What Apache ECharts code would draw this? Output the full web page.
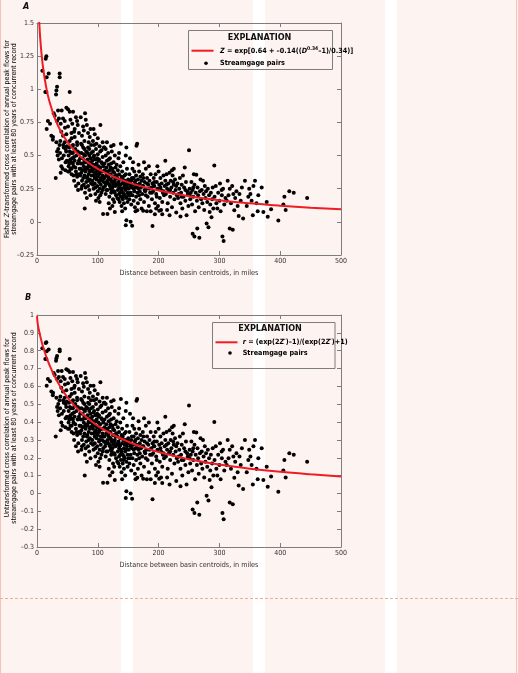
<!DOCTYPE html>
<html>
<head>
<meta charset="utf-8">
<script src="https://cdn.jsdelivr.net/npm/echarts@6/dist/echarts.min.js"></script>
<style>
html,body{margin:0;padding:0;}
body{width:518px;height:673px;position:relative;background:#fdf3f0;overflow:hidden;}
.stripe{position:absolute;top:0;height:673px;background:#ffffff;}
#chart{position:absolute;left:0;top:0;width:518px;height:673px;}
.edge{position:absolute;top:0;height:673px;width:1px;background:#f4c3ba;}
.dash{position:absolute;left:0;width:518px;top:598px;height:0;border-top:1px dashed #f0aaa0;}
</style>
</head>
<body>
<div class="stripe" style="left:121px;width:12px"></div>
<div class="stripe" style="left:253px;width:12px"></div>
<div class="stripe" style="left:385px;width:12px"></div>
<div class="edge" style="left:0"></div>
<div class="edge" style="left:516px"></div>
<div class="dash"></div>
<div id="chart"></div>
<script>
// ---------- DATA ----------
// Panel A: Fisher Z-transformed cross correlation vs distance (miles)
const fisherPoints = [
  [8.8,1.14],[14.3,1.23],[15.4,1.25],[15.9,1.09],[19.2,1.12],[15.4,0.98],[13.7,0.98],[18,0.76],[21.4,0.74],[15.9,0.70],[23.6,0.65],[26.4,0.64],[27.5,0.82],[29.1,0.80],[30.8,0.33],[26,0.62],
  [31.9,0.99],[31.3,0.96],[33,1.02],[37.3,1.12],[37.3,1.09],[34.6,0.84],[36,0.78],[33,0.76],[39,0.74],[40.6,0.84],[42.8,0.78],[45.6,0.76],[48.3,0.86],[46,0.71],[40,0.68],[42.8,0.65],[48.3,0.66],[38.4,0.61],[31.9,0.60],[45.6,0.60],[47.2,0.55],
  [35,0.55],[38,0.52],[40,0.42],[41,0.48],[43,0.58],[44,0.50],[46.7,0.39],[47,0.45],[48,0.53],[49,0.57],[36,0.47],[39,0.37],[42,0.40],[34,0.50],[44,0.56],[37,0.58],[49,0.46],[33,0.53],
  [51,0.85],[53.8,0.83],[59.3,0.83],[53.8,0.98],[51,0.72],[56.6,0.67],[62,0.70],[65.9,0.76],[69,0.67],[62,0.64],[53.8,0.61],[65.9,0.60],[59.3,0.58],[52.7,0.56],[58,0.74],[64,0.79],[55,0.77],[67,0.73],[61,0.68],[57,0.63],
  [51,0.38],[56.6,0.45],[67.5,0.24],[52,0.50],[53,0.44],[54,0.53],[55,0.40],[57,0.36],[58,0.48],[59,0.52],[60,0.42],[61,0.31],[62,0.46],[63,0.55],[64,0.38],[65,0.50],[66,0.34],[67,0.44],[68,0.29],[69,0.52],[70,0.40],[58,0.57],[62,0.54],[66,0.58],[55,0.47],[60,0.35],[64,0.27],[69,0.46],[53,0.38],
  [71.9,0.79],[75.8,0.72],[80.2,0.77],[84,0.67],[86.8,0.64],[78,0.61],[72.5,0.59],[74,0.65],[77,0.69],[82,0.73],[88,0.70],[79,0.82],[85,0.60],[89,0.58],
  [73,0.25],[78.5,0.10],[71,0.35],[72,0.44],[73,0.52],[74,0.31],[75,0.39],[75,0.48],[76,0.56],[77,0.28],[77,0.42],[78,0.35],[79,0.50],[79,0.22],[80,0.45],[80,0.38],[81,0.30],[81,0.53],[82,0.41],[82,0.18],[83,0.47],[83,0.34],[84,0.27],[84,0.56],[85,0.43],[85,0.36],[86,0.50],[86,0.24],[87,0.32],[87,0.45],[88,0.39],[88,0.20],[89,0.52],[89,0.29],[90,0.42],[90,0.35],[76,0.33],[78,0.46],[80,0.26],[83,0.40],[86,0.55],[88,0.48],[72,0.40],[74,0.58],
  [92,0.61],[97.7,0.59],[104.3,0.73],[103,0.57],[95,0.66],[100,0.63],[108,0.60],[93,0.70],
  [108.7,0.06],[91,0.46],[91,0.31],[92,0.38],[92,0.53],[93,0.25],[93,0.43],[94,0.35],[94,0.50],[95,0.29],[95,0.40],[96,0.47],[96,0.21],[97,0.37],[97,0.55],[98,0.32],[98,0.44],[99,0.27],[99,0.39],[100,0.51],[100,0.34],[101,0.42],[101,0.18],[102,0.30],[102,0.47],[103,0.37],[103,0.25],[104,0.41],[104,0.53],[105,0.33],[105,0.28],[106,0.45],[106,0.22],[107,0.38],[107,0.31],[108,0.49],[108,0.35],[109,0.26],[109,0.42],[110,0.30],[110,0.56],[94,0.58],[97,0.16],[100,0.23],[103,0.15],[106,0.54],[99,0.48],[95,0.36],[101,0.39],[104,0.20],
  [111,0.56],[122,0.57],[115,0.60],[126,0.58],
  [115.9,0.06],[128,0.075],[111,0.33],[111,0.44],[112,0.27],[112,0.38],[113,0.50],[113,0.21],[114,0.35],[114,0.41],[115,0.30],[115,0.46],[116,0.24],[116,0.37],[117,0.52],[117,0.29],[118,0.33],[118,0.43],[119,0.19],[119,0.39],[120,0.27],[120,0.48],[121,0.32],[121,0.36],[122,0.22],[122,0.44],[123,0.30],[123,0.53],[124,0.26],[124,0.40],[125,0.34],[125,0.17],[126,0.45],[126,0.29],[127,0.23],[127,0.37],[128,0.31],[128,0.50],[129,0.27],[129,0.41],[130,0.20],[130,0.35],[118,0.14],[124,0.12],[113,0.55],[120,0.10],[127,0.15],[116,0.31],[121,0.25],[125,0.28],
  [147,0.56],[138,0.59],
  [147,0.013],[146,-0.025],[146,0.50],[131,0.28],[131,0.43],[132,0.33],[132,0.18],[133,0.39],[133,0.24],[134,0.30],[134,0.48],[135,0.21],[135,0.36],[136,0.27],[136,0.15],[137,0.32],[137,0.42],[138,0.25],[138,0.19],[139,0.34],[139,0.12],[140,0.29],[140,0.38],[141,0.22],[141,0.17],[142,0.31],[142,0.45],[143,0.26],[143,0.14],[144,0.20],[144,0.35],[145,0.24],[145,0.10],[146,0.30],[147,0.18],[148,0.27],[148,0.40],[149,0.22],[149,0.15],[150,0.32],[150,0.20],[135,0.52],[140,0.08],[144,0.28],[137,0.22],[142,0.19],
  [163.6,0.575],[164.7,0.59],
  [154,0.0],[156.5,-0.03],[165,0.088],[151,0.25],[152,0.36],[152,0.17],[153,0.29],[154,0.22],[155,0.31],[155,0.13],[156,0.26],[157,0.20],[157,0.40],[158,0.28],[159,0.16],[159,0.33],[160,0.23],[161,0.30],[161,0.11],[162,0.26],[163,0.35],[163,0.19],[164,0.28],[165,0.22],[166,0.32],[166,0.14],[167,0.25],[168,0.38],[168,0.20],[169,0.29],[170,0.17],[170,0.34],[158,0.45],[162,0.08],[167,0.43],[153,0.48],
  [174.6,0.083],[180.7,0.08],[190,-0.032],[171,0.26],[172,0.31],[173,0.21],[174,0.36],[175,0.27],[176,0.15],[177,0.30],[178,0.23],[179,0.40],[180,0.25],[181,0.33],[182,0.19],[183,0.28],[184,0.12],[185,0.31],[186,0.22],[187,0.36],[188,0.26],[189,0.17],[190,0.29],[176,0.45],[184,0.42],[172,0.10],[187,0.08],[179,0.20],
  [193.9,0.058],[201,0.083],[206,0.058],[211,0.46],[191,0.23],[192,0.33],[193,0.27],[194,0.14],[195,0.36],[196,0.21],[197,0.30],[198,0.25],[199,0.12],[200,0.38],[201,0.28],[202,0.18],[203,0.33],[204,0.24],[205,0.29],[206,0.15],[207,0.22],[208,0.35],[209,0.20],[210,0.27],[198,0.42],[204,0.09],[196,0.10],
  [211,0.31],[212,0.21],[213,0.36],[214,0.25],[215,0.14],[216,0.29],[217,0.23],[218,0.37],[219,0.19],[220,0.31],[221,0.26],[222,0.11],[223,0.35],[224,0.22],[225,0.28],[226,0.17],[227,0.32],[228,0.24],[229,0.07],[230,0.20],[218,0.05],[225,0.40],[214,0.09],[222,0.39],
  [243,0.41],[231,0.29],[232,0.18],[234,0.25],[235,0.33],[236,0.14],[237,0.22],[238,0.28],[239,0.10],[240,0.35],[241,0.19],[242,0.26],[244,0.16],[245,0.30],[246,0.05],[247,0.23],[248,0.21],[249,0.12],[250,0.54],[236,0.04],
  [258,0.36],[262,0.355],[269,0.32],[273,0.31],[256,-0.09],[258.9,-0.11],[267,-0.12],[263.6,-0.05],[251,0.25],[252,0.17],[253,0.22],[254,0.30],[255,0.13],[256,0.24],[257,0.19],[259,0.28],[260,0.08],[261,0.22],[263,0.16],[264,0.26],[265,0.20],[266,0.11],[268,0.23],[270,0.17],
  [279,-0.013],[282,-0.04],[284,0.075],[287,0.035],[291.6,0.425],[271,0.24],[272,0.14],[274,0.21],[275,0.09],[276,0.27],[277,0.18],[278,0.23],[280,0.15],[281,0.25],[283,0.20],[285,0.13],[286,0.22],[288,0.17],[289,0.26],[290,0.10],
  [296.6,0.10],[305,-0.11],[307,-0.145],[303.7,0.24],[292,0.19],[294,0.27],[295,0.14],[298,0.22],[300,0.16],[301,0.29],[302,0.08],[304,0.20],[306,0.25],[308,0.13],[310,0.18],
  [313.6,0.31],[317,0.25],[323,0.21],[317,-0.05],[322,-0.06],[324.5,0.088],[331.7,0.045],[339,0.025],[312,0.16],[315,0.20],[319,0.14],[321,0.27],[326,0.18],[328,0.23],[330,0.12],[333,0.21],[335,0.16],[337,0.26],
  [342,0.31],[347.6,0.19],[351,0.21],[358.6,0.31],[364,0.20],[345,0.12],[349,0.25],[353,0.16],[356,0.27],[361,0.14],[363,0.08],[355,0.05],
  [369.6,0.26],[377.8,0.15],[372.3,0.075],[379.5,0.038],[385,0.095],[396.9,0.01],[406.9,0.19],[405.2,0.13],[409,0.09],[415,0.23],[422.3,0.22],[444.3,0.18],
  [52,0.42],[56,0.52],[59,0.44],[61,0.49],[63,0.41],[65,0.36],[67,0.53],[69,0.36],[54,0.46],[57,0.40],
  [71,0.48],[73,0.37],[75,0.44],[77,0.51],[79,0.40],[81,0.46],[83,0.52],[85,0.31],[87,0.38],[89,0.44],[74,0.27],[82,0.33],[86,0.42],[78,0.55],
  [91,0.40],[93,0.49],[95,0.33],[97,0.43],[99,0.35],[101,0.46],[103,0.31],[105,0.38],[107,0.44],[109,0.33],[96,0.26],[102,0.36],[108,0.24],[92,0.28],
  [111,0.39],[113,0.29],[115,0.38],[117,0.34],[119,0.28],[121,0.41],[123,0.24],[125,0.38],[127,0.30],[129,0.33],[114,0.24],[122,0.31],[128,0.22],[118,0.47],
  [131,0.35],[133,0.29],[135,0.26],[137,0.28],[139,0.24],[141,0.33],[143,0.21],[145,0.31],[147,0.25],[149,0.29],[134,0.17],[146,0.36],
  [151,0.30],[154,0.27],[156,0.33],[159,0.25],[162,0.31],[165,0.26],[169,0.23],[173,0.27],[177,0.24],[181,0.29],[185,0.25],[189,0.22],[193,0.30],[197,0.19],[153,0.20],[160,0.38],[175,0.33],[192,0.27],
  [203,0.26],[208,0.23],[213,0.28],[219,0.24],[224,0.30],[229,0.27],[233,0.21],[238,0.19],[244,0.24],[251,0.20],[257,0.26]
];

// Panel B: untransformed cross correlation (same streamgage pairs)
const untransformedPoints = [
  [8.8,0.814],[14.3,0.843],[15.4,0.848],[15.9,0.797],[19.2,0.807],[15.4,0.753],[13.7,0.753],[18,0.641],[21.4,0.629],[15.9,0.604],[23.6,0.572],[26.4,0.565],[27.5,0.675],[29.1,0.664],[30.8,0.319],[26,0.551],
  [31.9,0.757],[31.3,0.744],[33,0.770],[37.3,0.807],[37.3,0.797],[34.6,0.686],[36,0.653],[33,0.641],[39,0.629],[40.6,0.686],[42.8,0.653],[45.6,0.641],[48.3,0.696],[46,0.611],[40,0.592],[42.8,0.572],[48.3,0.578],[38.4,0.544],[31.9,0.537],[45.6,0.537],[47.2,0.501],
  [35,0.501],[38,0.478],[40,0.397],[41,0.446],[43,0.523],[44,0.462],[46.7,0.371],[47,0.422],[48,0.485],[49,0.515],[36,0.438],[39,0.354],[42,0.380],[34,0.462],[44,0.508],[37,0.523],[49,0.430],[33,0.485],
  [51,0.691],[53.8,0.680],[59.3,0.680],[53.8,0.753],[51,0.617],[56.6,0.585],[62,0.604],[65.9,0.641],[69,0.585],[62,0.565],[53.8,0.544],[65.9,0.537],[59.3,0.523],[52.7,0.508],[58,0.629],[64,0.658],[55,0.647],[67,0.623],[61,0.592],[57,0.558],
  [51,0.363],[56.6,0.422],[67.5,0.235],[52,0.462],[53,0.414],[54,0.485],[55,0.380],[57,0.345],[58,0.446],[59,0.478],[60,0.397],[61,0.300],[62,0.430],[63,0.501],[64,0.363],[65,0.462],[66,0.327],[67,0.414],[68,0.282],[69,0.478],[70,0.380],[58,0.515],[62,0.493],[66,0.523],[55,0.438],[60,0.336],[64,0.264],[69,0.430],[53,0.363],
  [71.9,0.658],[75.8,0.617],[80.2,0.647],[84,0.585],[86.8,0.565],[78,0.544],[72.5,0.530],[74,0.572],[77,0.598],[82,0.623],[88,0.604],[79,0.675],[85,0.537],[89,0.523],
  [73,0.245],[78.5,0.100],[71,0.336],[72,0.414],[73,0.478],[74,0.300],[75,0.371],[75,0.446],[76,0.508],[77,0.273],[77,0.397],[78,0.336],[79,0.462],[79,0.217],[80,0.422],[80,0.363],[81,0.291],[81,0.485],[82,0.388],[82,0.178],[83,0.438],[83,0.327],[84,0.264],[84,0.508],[85,0.405],[85,0.345],[86,0.462],[86,0.235],[87,0.310],[87,0.422],[88,0.371],[88,0.197],[89,0.478],[89,0.282],[90,0.397],[90,0.336],[76,0.319],[78,0.430],[80,0.254],[83,0.380],[86,0.501],[88,0.446],[72,0.380],[74,0.523],
  [92,0.544],[97.7,0.530],[104.3,0.623],[103,0.515],[95,0.578],[100,0.558],[108,0.537],[93,0.604],
  [108.7,0.060],[91,0.430],[91,0.300],[92,0.363],[92,0.485],[93,0.245],[93,0.405],[94,0.336],[94,0.462],[95,0.282],[95,0.380],[96,0.438],[96,0.207],[97,0.354],[97,0.501],[98,0.310],[98,0.414],[99,0.264],[99,0.371],[100,0.470],[100,0.327],[101,0.397],[101,0.178],[102,0.291],[102,0.438],[103,0.354],[103,0.245],[104,0.388],[104,0.485],[105,0.319],[105,0.273],[106,0.422],[106,0.217],[107,0.363],[107,0.300],[108,0.454],[108,0.336],[109,0.254],[109,0.397],[110,0.291],[110,0.508],[94,0.523],[97,0.159],[100,0.226],[103,0.149],[106,0.493],[99,0.446],[95,0.345],[101,0.371],[104,0.197],
  [111,0.508],[122,0.515],[115,0.537],[126,0.523],
  [115.9,0.060],[128,0.075],[111,0.319],[111,0.414],[112,0.264],[112,0.363],[113,0.462],[113,0.207],[114,0.336],[114,0.388],[115,0.291],[115,0.430],[116,0.235],[116,0.354],[117,0.478],[117,0.282],[118,0.319],[118,0.405],[119,0.188],[119,0.371],[120,0.264],[120,0.446],[121,0.310],[121,0.345],[122,0.217],[122,0.414],[123,0.291],[123,0.485],[124,0.254],[124,0.380],[125,0.327],[125,0.168],[126,0.422],[126,0.282],[127,0.226],[127,0.354],[128,0.300],[128,0.462],[129,0.264],[129,0.388],[130,0.197],[130,0.336],[118,0.139],[124,0.119],[113,0.501],[120,0.100],[127,0.149],[116,0.300],[121,0.245],[125,0.273],
  [147,0.508],[138,0.530],
  [147,0.013],[146,-0.025],[146,0.462],[131,0.273],[131,0.405],[132,0.319],[132,0.178],[133,0.371],[133,0.235],[134,0.291],[134,0.446],[135,0.207],[135,0.345],[136,0.264],[136,0.149],[137,0.310],[137,0.397],[138,0.245],[138,0.188],[139,0.327],[139,0.119],[140,0.282],[140,0.363],[141,0.217],[141,0.168],[142,0.300],[142,0.422],[143,0.254],[143,0.139],[144,0.197],[144,0.336],[145,0.235],[145,0.100],[146,0.291],[147,0.178],[148,0.264],[148,0.380],[149,0.217],[149,0.149],[150,0.310],[150,0.197],[135,0.478],[140,0.080],[144,0.273],[137,0.217],[142,0.188],
  [163.6,0.519],[164.7,0.530],
  [154,0.0],[156.5,-0.030],[165,0.088],[151,0.245],[152,0.345],[152,0.168],[153,0.282],[154,0.217],[155,0.300],[155,0.129],[156,0.254],[157,0.197],[157,0.380],[158,0.273],[159,0.159],[159,0.319],[160,0.226],[161,0.291],[161,0.110],[162,0.254],[163,0.336],[163,0.188],[164,0.273],[165,0.217],[166,0.310],[166,0.139],[167,0.245],[168,0.363],[168,0.197],[169,0.282],[170,0.168],[170,0.327],[158,0.422],[162,0.080],[167,0.405],[153,0.446],
  [174.6,0.083],[180.7,0.080],[190,-0.032],[171,0.254],[172,0.300],[173,0.207],[174,0.345],[175,0.264],[176,0.149],[177,0.291],[178,0.226],[179,0.380],[180,0.245],[181,0.319],[182,0.188],[183,0.273],[184,0.119],[185,0.300],[186,0.217],[187,0.345],[188,0.254],[189,0.168],[190,0.282],[176,0.422],[184,0.397],[172,0.100],[187,0.080],[179,0.197],
  [193.9,0.058],[201,0.083],[206,0.058],[211,0.430],[191,0.226],[192,0.319],[193,0.264],[194,0.139],[195,0.345],[196,0.207],[197,0.291],[198,0.245],[199,0.119],[200,0.363],[201,0.273],[202,0.178],[203,0.319],[204,0.235],[205,0.282],[206,0.149],[207,0.217],[208,0.336],[209,0.197],[210,0.264],[198,0.397],[204,0.090],[196,0.100],
  [211,0.300],[212,0.207],[213,0.345],[214,0.245],[215,0.139],[216,0.282],[217,0.226],[218,0.354],[219,0.188],[220,0.300],[221,0.254],[222,0.110],[223,0.336],[224,0.217],[225,0.273],[226,0.168],[227,0.310],[228,0.235],[229,0.070],[230,0.197],[218,0.050],[225,0.380],[214,0.090],[222,0.371],
  [243,0.388],[231,0.282],[232,0.178],[234,0.245],[235,0.319],[236,0.139],[237,0.217],[238,0.273],[239,0.100],[240,0.336],[241,0.188],[242,0.254],[244,0.159],[245,0.291],[246,0.050],[247,0.226],[248,0.207],[249,0.119],[250,0.493],[236,0.040],
  [258,0.345],[262,0.341],[269,0.310],[273,0.300],[256,-0.090],[258.9,-0.110],[267,-0.119],[263.6,-0.050],[251,0.245],[252,0.168],[253,0.217],[254,0.291],[255,0.129],[256,0.235],[257,0.188],[259,0.273],[260,0.080],[261,0.217],[263,0.159],[264,0.254],[265,0.197],[266,0.110],[268,0.226],[270,0.168],
  [279,-0.013],[282,-0.040],[284,0.075],[287,0.035],[291.6,0.401],[271,0.235],[272,0.139],[274,0.207],[275,0.090],[276,0.264],[277,0.178],[278,0.226],[280,0.149],[281,0.245],[283,0.197],[285,0.129],[286,0.217],[288,0.168],[289,0.254],[290,0.100],
  [296.6,0.100],[305,-0.110],[307,-0.144],[303.7,0.235],[292,0.188],[294,0.264],[295,0.139],[298,0.217],[300,0.159],[301,0.282],[302,0.080],[304,0.197],[306,0.245],[308,0.129],[310,0.178],
  [313.6,0.300],[317,0.245],[323,0.207],[317,-0.050],[322,-0.060],[324.5,0.088],[331.7,0.045],[339,0.025],[312,0.159],[315,0.197],[319,0.139],[321,0.264],[326,0.178],[328,0.226],[330,0.119],[333,0.207],[335,0.159],[337,0.254],
  [342,0.300],[347.6,0.188],[351,0.207],[358.6,0.300],[364,0.197],[345,0.119],[349,0.245],[353,0.159],[356,0.264],[361,0.139],[363,0.080],[355,0.050],
  [369.6,0.254],[377.8,0.149],[372.3,0.075],[379.5,0.038],[385,0.095],[396.9,0.010],[406.9,0.188],[405.2,0.129],[409,0.090],[415,0.226],[422.3,0.217],[444.3,0.178],
  [52,0.397],[56,0.478],[59,0.414],[61,0.454],[63,0.388],[65,0.345],[67,0.485],[69,0.345],[54,0.430],[57,0.380],
  [71,0.446],[73,0.354],[75,0.414],[77,0.470],[79,0.380],[81,0.430],[83,0.478],[85,0.300],[87,0.363],[89,0.414],[74,0.264],[82,0.319],[86,0.397],[78,0.501],
  [91,0.380],[93,0.454],[95,0.319],[97,0.405],[99,0.336],[101,0.430],[103,0.300],[105,0.363],[107,0.414],[109,0.319],[96,0.254],[102,0.345],[108,0.235],[92,0.273],
  [111,0.371],[113,0.282],[115,0.363],[117,0.327],[119,0.273],[121,0.388],[123,0.235],[125,0.363],[127,0.291],[129,0.319],[114,0.235],[122,0.300],[128,0.217],[118,0.438],
  [131,0.336],[133,0.282],[135,0.254],[137,0.273],[139,0.235],[141,0.319],[143,0.207],[145,0.300],[147,0.245],[149,0.282],[134,0.168],[146,0.345],
  [151,0.291],[154,0.264],[156,0.319],[159,0.245],[162,0.300],[165,0.254],[169,0.226],[173,0.264],[177,0.235],[181,0.282],[185,0.245],[189,0.217],[193,0.291],[197,0.188],[153,0.197],[160,0.363],[175,0.319],[192,0.264],
  [203,0.254],[208,0.226],[213,0.273],[219,0.235],[224,0.291],[229,0.264],[233,0.207],[238,0.188],[244,0.235],[251,0.197],[257,0.254]
];

// Fitted curves
const curveDistA = [1,2,3,4,5,7,10,15,20,30,40,50,60,70,80,100,125,150,175,200,250,300,350,400,450,500];
const curveZ     = [1.897,1.700,1.574,1.480,1.405,1.289,1.163,1.018,0.915,0.773,0.676,0.603,0.546,0.500,0.461,0.399,0.342,0.298,0.264,0.236,0.194,0.163,0.140,0.122,0.107,0.095];
const curveDistB = [0,1,2,3,5,7,10,15,20,30,40,50,60,70,80,100,125,150,175,200,250,300,350,400,450,500];
const curveR     = [0.994,0.956,0.935,0.918,0.886,0.859,0.822,0.769,0.724,0.649,0.589,0.539,0.498,0.462,0.431,0.379,0.329,0.290,0.258,0.232,0.192,0.162,0.139,0.121,0.107,0.095];

const xTitle = 'Distance between basin centroids, in miles';

// ---------- CHART ----------
const FONT = "'Liberation Sans Narrow','Arial Narrow','DejaVu Sans Condensed','Liberation Sans',sans-serif";
const AX = '#7d7d7d';
const TXT = '#333';
const RED = '#ee1d25';

const zip = (xs, ys) => xs.map((x, i) => [x, ys[i]]);
const fmtY = v => { const s = parseFloat(v.toFixed(2)); return s < 0 ? '\u2013' + String(-s) : String(s); };

const GRID_A = {left: 37, top: 23, width: 304, height: 232};
const GRID_B = {left: 37, top: 315, width: 304, height: 232};

function xAx(gi, pos, labels) {
  return {
    type: 'value', gridIndex: gi, position: pos, min: 0, max: 500, interval: 100,
    axisLine: {show: true, onZero: false, lineStyle: {color: AX, width: 1}},
    axisTick: {show: true, inside: true, length: 4, lineStyle: {color: AX}},
    axisLabel: {show: labels, margin: 3, fontSize: 7, color: TXT, fontFamily: FONT},
    splitLine: {show: false},
    name: labels ? xTitle : '', nameLocation: 'middle', nameGap: 15,
    nameTextStyle: {fontSize: 7.2, color: TXT, fontFamily: FONT}
  };
}
function yAx(gi, pos, labels, min, max, interval) {
  return {
    type: 'value', gridIndex: gi, position: pos, min, max, interval,
    axisLine: {show: true, onZero: false, lineStyle: {color: AX, width: 1}},
    axisTick: {show: true, inside: true, length: 4, lineStyle: {color: AX}},
    axisLabel: {show: labels, margin: 3, fontSize: 7, color: TXT, fontFamily: FONT, formatter: fmtY},
    splitLine: {show: false}
  };
}

const chart = echarts.init(document.getElementById('chart'), null, {renderer: 'canvas'});

const rich = {
  n: {fontSize: 7, fontFamily: FONT, color: TXT},
  i: {fontSize: 7, fontFamily: FONT, color: TXT, fontStyle: 'italic'}
};
const lrich = {
  b: {fontSize: 7.2, fontWeight: 'bold', fontFamily: FONT, color: '#111'},
  bi: {fontSize: 7.2, fontWeight: 'bold', fontStyle: 'italic', fontFamily: FONT, color: '#111'},
  sup: {fontSize: 5, fontWeight: 'bold', fontFamily: FONT, color: '#111', padding: [0, 0, 4, 0]}
};

function legendGroup(box, head, lineY, formula, dotY, textX) {
  return [
    {type: 'rect', shape: box, style: {fill: 'none', stroke: AX, lineWidth: 1}, z: 10},
    {type: 'text', x: head.x, y: head.y, style: {text: 'EXPLANATION', font: "bold 9px " + FONT, fill: '#111', align: 'center', verticalAlign: 'middle'}, z: 10},
    {type: 'line', shape: {x1: box.x + 3, y1: lineY, x2: box.x + 25, y2: lineY}, style: {stroke: RED, lineWidth: 2}, z: 10},
    {type: 'text', x: textX, y: lineY, style: {text: formula, rich: lrich, align: 'left', verticalAlign: 'middle'}, z: 10},
    {type: 'circle', shape: {cx: box.x + 17.5, cy: dotY, r: 1.8}, style: {fill: '#000'}, z: 10},
    {type: 'text', x: textX, y: dotY, style: {text: '{b|Streamgage pairs}', rich: lrich, align: 'left', verticalAlign: 'middle'}, z: 10}
  ];
}

const option = {
  backgroundColor: 'transparent',
  animation: false,
  textStyle: {fontFamily: FONT},
  grid: [GRID_A, GRID_B],
  xAxis: [xAx(0, 'bottom', true), xAx(0, 'top', false), xAx(1, 'bottom', true), xAx(1, 'top', false)],
  yAxis: [
    yAx(0, 'left', true, -0.25, 1.5, 0.25), yAx(0, 'right', false, -0.25, 1.5, 0.25),
    yAx(1, 'left', true, -0.3, 1, 0.1), yAx(1, 'right', false, -0.3, 1, 0.1)
  ],
  series: [
    {type: 'scatter', name: 'Streamgage pairs', xAxisIndex: 0, yAxisIndex: 0, data: fisherPoints,
     symbol: 'circle', symbolSize: 4, itemStyle: {color: '#000', opacity: 1}, z: 2},
    {type: 'line', name: 'Fitted Z', xAxisIndex: 0, yAxisIndex: 0, data: zip(curveDistA, curveZ),
     showSymbol: false, smooth: 0.4, clip: true, lineStyle: {color: RED, width: 2}, z: 3},
    {type: 'scatter', name: 'Streamgage pairs', xAxisIndex: 2, yAxisIndex: 2, data: untransformedPoints,
     symbol: 'circle', symbolSize: 4, itemStyle: {color: '#000', opacity: 1}, z: 2},
    {type: 'line', name: 'Fitted r', xAxisIndex: 2, yAxisIndex: 2, data: zip(curveDistB, curveR),
     showSymbol: false, smooth: 0.4, clip: true, lineStyle: {color: RED, width: 2}, z: 3}
  ],
  graphic: [
    {type: 'text', x: 23, y: 7, style: {text: 'A', font: "italic bold 9px " + FONT, fill: '#111', verticalAlign: 'middle'}},
    {type: 'text', x: 25, y: 298, style: {text: 'B', font: "italic bold 9px " + FONT, fill: '#111', verticalAlign: 'middle'}},
    {type: 'text', x: 11, y: 139, rotation: Math.PI / 2,
     style: {text: '{n|Fisher }{i|Z}{n|-transformed cross correlation of annual peak flows for}\n{n|streamgage pairs with at least 80 years of concurrent record}',
             rich, align: 'center', verticalAlign: 'middle', lineHeight: 7}},
    {type: 'text', x: 11, y: 428, rotation: Math.PI / 2,
     style: {text: '{n|Untransformed cross correlation of annual peak flows for}\n{n|streamgage pairs with at least 80 years of concurrent record}',
             rich, align: 'center', verticalAlign: 'middle', lineHeight: 7}},
    ...legendGroup({x: 188.5, y: 30.5, width: 144, height: 39}, {x: 259.5, y: 37.5}, 50.7,
      '{bi|Z}{b| = exp[0.64 + \u20130.14((}{bi|D}{sup|0.34}{b|\u20131)/0.34)]}', 63.3, 220),
    ...legendGroup({x: 212.5, y: 322.5, width: 122.5, height: 46}, {x: 270, y: 328.8}, 342.3,
      '{bi|r}{b| = (exp(2}{bi|Z\u2032}{b|)\u20131)/(exp(2}{bi|Z\u2032}{b|)+1)}', 353, 242.7)
  ]
};
chart.setOption(option);
</script>
</body>
</html>
